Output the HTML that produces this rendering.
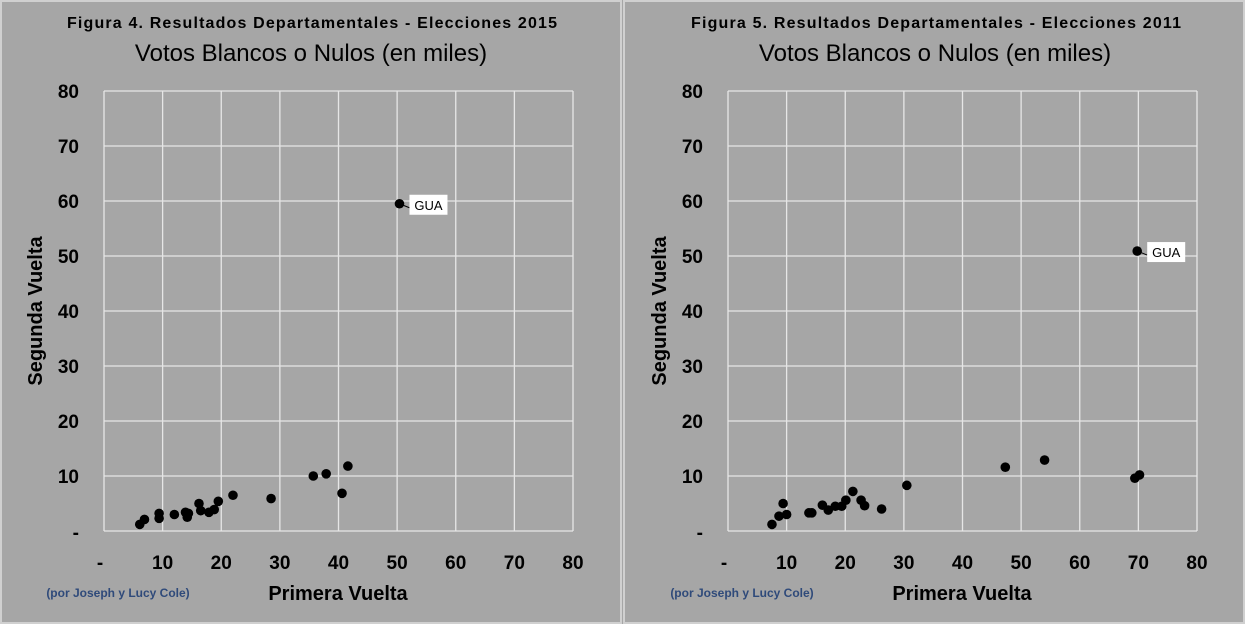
<!DOCTYPE html>
<html><head><meta charset="utf-8"><style>
body{margin:0;background:#a6a6a6;}
svg{display:block;font-family:"Liberation Sans",sans-serif;}
</style></head><body>
<svg id="c" width="1245" height="624" viewBox="0 0 1245 624" xmlns="http://www.w3.org/2000/svg">
<rect x="0" y="0" width="1245" height="624" fill="#a6a6a6"/>
<rect x="1" y="1" width="620" height="622" fill="none" stroke="#d0d0d0" stroke-width="2"/>
<rect x="624" y="1" width="620" height="622" fill="none" stroke="#d0d0d0" stroke-width="2"/>
</svg>
<script>
const xTicks = [0,10,20,30,40,50,60,70,80];
const yTicks = [0,10,20,30,40,50,60,70,80];
const tickLabels = ["-","10","20","30","40","50","60","70","80"];
const x2015 = [6.1,6.9,9.4,9.4,12.0,13.9,14.4,14.2,16.2,16.5,17.9,18.8,19.5,22.0,28.5,35.7,37.9,40.6,41.6,50.4];
const y2015 = [1.2,2.1,3.2,2.3,3.0,3.4,3.2,2.5,5.0,3.7,3.4,3.9,5.4,6.5,5.9,10.0,10.4,6.85,11.8,59.5];
const x2011 = [7.5,8.7,9.4,10.0,13.8,14.3,16.1,17.1,18.3,19.4,20.1,21.3,22.7,23.3,26.2,30.5,47.3,54.0,69.4,70.2,69.8];
const y2011 = [1.2,2.7,5.0,3.0,3.3,3.3,4.7,3.8,4.5,4.5,5.6,7.2,5.6,4.6,4.0,8.3,11.6,12.9,9.6,10.2,50.9];
const svg = document.getElementById('c');
const NS = 'http://www.w3.org/2000/svg';
function mk(tag, attrs, text){const e=document.createElementNS(NS,tag);for(const k in attrs)e.setAttribute(k,attrs[k]);if(text!==undefined)e.textContent=text;svg.appendChild(e);return e;}
function panel(ox, fig, year, xs, ys, key){
  const x0=ox+104, x1=ox+573, yb=531, yt=91;
  const sx=v=>x0+(x1-x0)*v/80, sy=v=>yb-(yb-yt)*v/80;
  let t=mk('text',{x:ox+312,y:28,'text-anchor':'middle','font-size':'16','font-weight':'bold',textLength:'490',lengthAdjust:'spacing'},'Figura '+fig+'. Resultados Departamentales  - Elecciones '+year);
  
  
  t=mk('text',{x:ox+311,y:61,'text-anchor':'middle','font-size':'24'},'Votos Blancos o Nulos (en miles)');
  
  
  xTicks.forEach((v,i)=>{
    const g=mk('line',{x1:sx(v),x2:sx(v),y1:yt,y2:yb,stroke:'#e6e6e6','stroke-width':'1.3'});
    
    
    const l=mk('text',{x:sx(v)-(i===0?4:0),y:569,'text-anchor':'middle','font-size':'19','font-weight':'bold'},tickLabels[i]);
    
    
  });
  yTicks.forEach((v,i)=>{
    const g=mk('line',{x1:x0,x2:x1,y1:sy(v),y2:sy(v),stroke:'#e6e6e6','stroke-width':'1.3'});
    
    
    const l=mk('text',{x:ox+79,y:sy(v)+(i===0?8:7),'text-anchor':'end','font-size':'19','font-weight':'bold'},tickLabels[i]);
    
    
  });
  t=mk('text',{x:ox+338,y:600,'text-anchor':'middle','font-size':'20','font-weight':'bold'},'Primera Vuelta');
  
  
  t=mk('text',{x:0,y:0,'text-anchor':'middle','font-size':'20','font-weight':'bold',transform:'translate('+(ox+42)+',311) rotate(-90)'},'Segunda Vuelta');
  
  
  t=mk('text',{x:ox+118,y:597,'text-anchor':'middle','font-size':'12','font-weight':'bold',fill:'#2f4a7a'},'(por Joseph y Lucy Cole)');
  
  
  xs.forEach((v,i)=>{
    const p=mk('circle',{cx:sx(v),cy:sy(ys[i]),r:4.8,fill:'#000'});
    
    
  });
  const gi=xs.length-1, gx=sx(xs[gi]), gy=sy(ys[gi]);
  const ln=mk('line',{x1:gx,y1:gy,x2:gx+10,y2:gy+4,stroke:'#000','stroke-width':'1'});
  
  
  const bx=mk('rect',{x:gx+10,y:gy-9,width:38,height:20,fill:'#fff'});
  
  
  t=mk('text',{x:gx+29,y:gy+6,'text-anchor':'middle','font-size':'13'},'GUA');
  
  
}
panel(0,4,2015,x2015,y2015,'2015');
panel(624,5,2011,x2011,y2011,'2011');
</script>
</body></html>
